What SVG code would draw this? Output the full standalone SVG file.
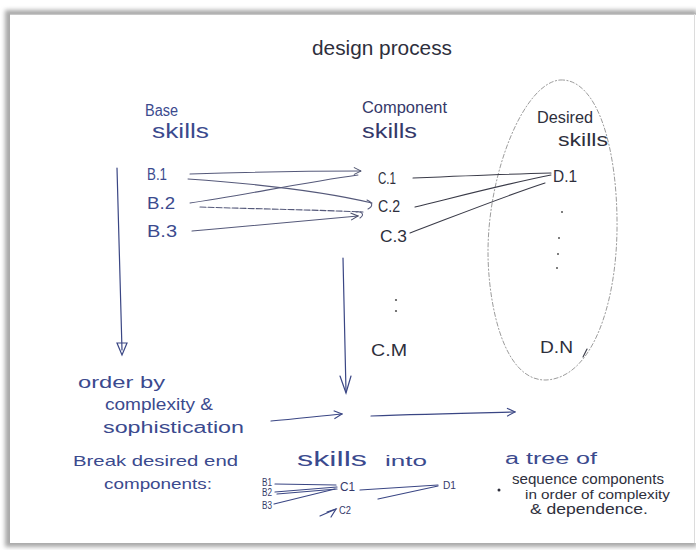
<svg xmlns="http://www.w3.org/2000/svg" width="696" height="550" viewBox="0 0 696 550">
  <defs>
    <filter id="soft" x="-5%" y="-5%" width="110%" height="110%">
      <feGaussianBlur stdDeviation="2.2"/>
    </filter>
    <marker id="chev" viewBox="0 0 10 10" refX="9" refY="5" markerWidth="9" markerHeight="9" orient="auto" markerUnits="userSpaceOnUse">
      <path d="M1,1 L9,5 L1,9" fill="none" stroke="#4a4f6a" stroke-width="1.1"/>
    </marker>
    <marker id="chevBlue" viewBox="0 0 10 10" refX="9" refY="5" markerWidth="10" markerHeight="10" orient="auto" markerUnits="userSpaceOnUse">
      <path d="M1,1 L9,5 L1,9" fill="none" stroke="#3a4684" stroke-width="1.1"/>
    </marker>
    <style>
      .ink { font-family: "Liberation Sans", "DejaVu Sans", sans-serif; }
      .blue { fill: #3b4a8e; }
      .dark { fill: #2e2f3c; }
      .navy { fill: #35396a; }
      .lbl { font-size: 16px; }
      .small { font-size: 10px; }
      .edge { fill: none; stroke: #55597a; stroke-width: 1.1; stroke-linecap: round; }
      .edgeBlue { fill: none; stroke: #3a4684; stroke-width: 1.2; stroke-linecap: round; }
      .edgeDark { fill: none; stroke: #3a3b48; stroke-width: 1.1; stroke-linecap: round; }
      .pencil { fill: none; stroke: #9c9c9c; stroke-width: 1; stroke-dasharray: 5 1.5 2 1.5; }
      .dot { fill: #555; }
    </style>
  </defs>

  <!-- page and its shadow -->
  <rect x="0" y="0" width="696" height="550" fill="#ffffff"/>
  <rect x="5" y="10" width="692" height="537" fill="#a9a9a9" filter="url(#soft)"/>
  <rect x="10" y="14" width="686" height="529" fill="#ffffff"/>
  <line x1="10" y1="14" x2="696" y2="14" stroke="#b4b4b4" stroke-width="1.5"/>
  <line x1="694.5" y1="14" x2="694.5" y2="543" stroke="#dcdcdc" stroke-width="1"/>

  <!-- title -->
  <g id="title">
    <text class="ink dark" x="312" y="55" font-size="21" textLength="140" lengthAdjust="spacingAndGlyphs">design process</text>
  </g>

  <!-- column headings -->
  <g id="base-skills-heading">
    <text class="ink blue lbl" x="145" y="116" textLength="33" lengthAdjust="spacingAndGlyphs">Base</text>
    <text class="ink blue" x="152" y="138" font-size="20" textLength="57" lengthAdjust="spacingAndGlyphs">skills</text>
  </g>
  <g id="component-skills-heading">
    <text class="ink navy lbl" x="362" y="113" textLength="85" lengthAdjust="spacingAndGlyphs">Component</text>
    <text class="ink navy" x="362" y="138" font-size="20" textLength="55" lengthAdjust="spacingAndGlyphs">skills</text>
  </g>
  <g id="desired-skills">
    <path class="pencil" d="M560,80 C598,78 618,150 617,230 C616,305 592,378 546,380 C502,381 488,300 488,252 C488,172 524,83 560,80 Z"/>
    <text class="ink dark lbl" x="537" y="123" textLength="56" lengthAdjust="spacingAndGlyphs">Desired</text>
    <text class="ink dark" x="558" y="146" font-size="19" textLength="50" lengthAdjust="spacingAndGlyphs">skills</text>
  </g>

  <!-- base skill nodes -->
  <g id="node-b1"><text class="ink blue lbl" x="147" y="180" textLength="20" lengthAdjust="spacingAndGlyphs">B.1</text></g>
  <g id="node-b2"><text class="ink blue lbl" x="147" y="209" textLength="28" lengthAdjust="spacingAndGlyphs">B.2</text></g>
  <g id="node-b3"><text class="ink blue lbl" x="147" y="237" textLength="30" lengthAdjust="spacingAndGlyphs">B.3</text></g>

  <!-- component skill nodes -->
  <g id="node-c1"><text class="ink dark lbl" x="378" y="184" textLength="18" lengthAdjust="spacingAndGlyphs">C.1</text></g>
  <g id="node-c2"><text class="ink dark lbl" x="378" y="212" textLength="22" lengthAdjust="spacingAndGlyphs">C.2</text></g>
  <g id="node-c3"><text class="ink dark lbl" x="380" y="242" textLength="27" lengthAdjust="spacingAndGlyphs">C.3</text></g>
  <g id="node-c-ellipsis">
    <circle class="dot" cx="396" cy="300" r="1.1"/>
    <circle class="dot" cx="396" cy="311" r="1.1"/>
  </g>
  <g id="node-cm"><text class="ink dark lbl" x="371" y="356" textLength="36" lengthAdjust="spacingAndGlyphs">C.M</text></g>

  <!-- desired skill nodes -->
  <g id="node-d1"><text class="ink dark lbl" x="553" y="182" textLength="24" lengthAdjust="spacingAndGlyphs">D.1</text></g>
  <g id="node-d-ellipsis">
    <circle class="dot" cx="562" cy="212" r="1"/>
    <circle class="dot" cx="559" cy="238" r="1"/>
    <circle class="dot" cx="558" cy="254" r="1"/>
    <circle class="dot" cx="557" cy="268" r="1"/>
  </g>
  <g id="node-dn">
    <text class="ink dark lbl" x="540" y="353" textLength="33" lengthAdjust="spacingAndGlyphs">D.N</text>
    <path class="edgeDark" d="M587,349 L583,357"/>
  </g>

  <!-- ordering note -->
  <g id="order-note">
    <text class="ink blue lbl" x="78" y="388" textLength="87" lengthAdjust="spacingAndGlyphs">order by</text>
    <text class="ink blue lbl" x="105" y="410" textLength="108" lengthAdjust="spacingAndGlyphs">complexity &amp;</text>
    <text class="ink blue lbl" x="103" y="433" textLength="141" lengthAdjust="spacingAndGlyphs">sophistication</text>
  </g>

  <!-- tree note -->
  <g id="tree-note">
    <text class="ink blue" x="73" y="466" font-size="15" textLength="165" lengthAdjust="spacingAndGlyphs">Break desired end</text>
    <text class="ink blue" x="297" y="466" font-size="21" textLength="70" lengthAdjust="spacingAndGlyphs">skills</text>
    <text class="ink blue" x="385" y="466" font-size="15" textLength="42" lengthAdjust="spacingAndGlyphs">into</text>
    <text class="ink blue" x="505" y="464" font-size="16" textLength="92" lengthAdjust="spacingAndGlyphs">a tree of</text>
    <text class="ink blue" x="104" y="489" font-size="15" textLength="108" lengthAdjust="spacingAndGlyphs">components:</text>
  </g>

  <!-- small example tree -->
  <g id="mini-b1"><text class="ink navy small" x="262" y="486" textLength="10" lengthAdjust="spacingAndGlyphs">B1</text></g>
  <g id="mini-b2"><text class="ink navy small" x="262" y="496" textLength="10" lengthAdjust="spacingAndGlyphs">B2</text></g>
  <g id="mini-b3"><text class="ink navy small" x="262" y="509" textLength="10" lengthAdjust="spacingAndGlyphs">B3</text></g>
  <g id="mini-c1"><text class="ink navy" x="340" y="491" font-size="12" textLength="15" lengthAdjust="spacingAndGlyphs">C1</text></g>
  <g id="mini-c2"><text class="ink navy small" x="339" y="514" textLength="12" lengthAdjust="spacingAndGlyphs">C2</text></g>
  <g id="mini-d1"><text class="ink navy small" x="443" y="489" textLength="13" lengthAdjust="spacingAndGlyphs">D1</text></g>

  <!-- sequencing note -->
  <g id="sequence-note">
    <circle cx="499" cy="490" r="1.5" fill="#2e2f3c"/>
    <text class="ink dark" x="512" y="484" font-size="14" textLength="152" lengthAdjust="spacingAndGlyphs">sequence components</text>
    <text class="ink dark" x="525" y="499" font-size="13" textLength="145" lengthAdjust="spacingAndGlyphs">in order of complexity</text>
    <text class="ink dark" x="530" y="514" font-size="14" textLength="118" lengthAdjust="spacingAndGlyphs">&amp; dependence.</text>
  </g>

  <!-- connectors -->
  <g id="connectors">
    <!-- base skills to component skills -->
    <path class="edge" d="M190,174 C250,172 310,171 361,171" marker-end="url(#chev)"/>
    <path class="edge" d="M188,179 C260,184 330,193 372,203"/>
    <path class="edge" d="M367,200 C372,202 374,206 368,209"/>
    <path class="edge" d="M190,203 C240,196 300,183 358,175"/>
    <path class="edge" d="M200,207 C260,209 320,210 363,212" stroke-dasharray="6 2" stroke="#8a8ca0"/>
    <path class="edge" d="M192,231 C250,226 310,220 358,216" marker-end="url(#chev)"/>
    <path class="edge" d="M356,212 C362,211 365,215 360,218"/>

    <!-- component skills to desired skill -->
    <path class="edgeDark" d="M413,178 C460,176 510,174 551,173"/>
    <path class="edgeDark" d="M415,207 C460,196 510,183 551,175"/>
    <path class="edgeDark" d="M410,233 C455,216 505,196 545,183"/>

    <!-- ordering arrows -->
    <path class="edgeBlue" d="M117,168 L122,350"/>
    <path class="edgeBlue" d="M117,343 L127,343 L122,355 Z"/>
    <path class="edgeBlue" d="M343,258 L346,392"/>
    <path class="edgeBlue" d="M340,376 L346,393 L351,376"/>
    <path class="edgeBlue" d="M271,421 C295,419 320,416 342,414" marker-end="url(#chevBlue)"/>
    <path class="edgeBlue" d="M371,416 C420,414 470,413 515,412" marker-end="url(#chevBlue)"/>

    <!-- small example tree links -->
    <path class="edgeBlue" d="M275,484 L336,485"/>
    <path class="edgeBlue" d="M275,492 L337,487"/>
    <path class="edgeBlue" d="M277,494 L337,489"/>
    <path class="edgeBlue" d="M274,504 L335,489"/>
    <path class="edgeBlue" d="M360,490 L438,485"/>
    <path class="edgeBlue" d="M378,499 L438,486"/>
    <path class="edgeBlue" d="M320,516 L336,509"/>
    <path class="edgeBlue" d="M327,512 L336,509 L331,517"/>
  </g>
</svg>
